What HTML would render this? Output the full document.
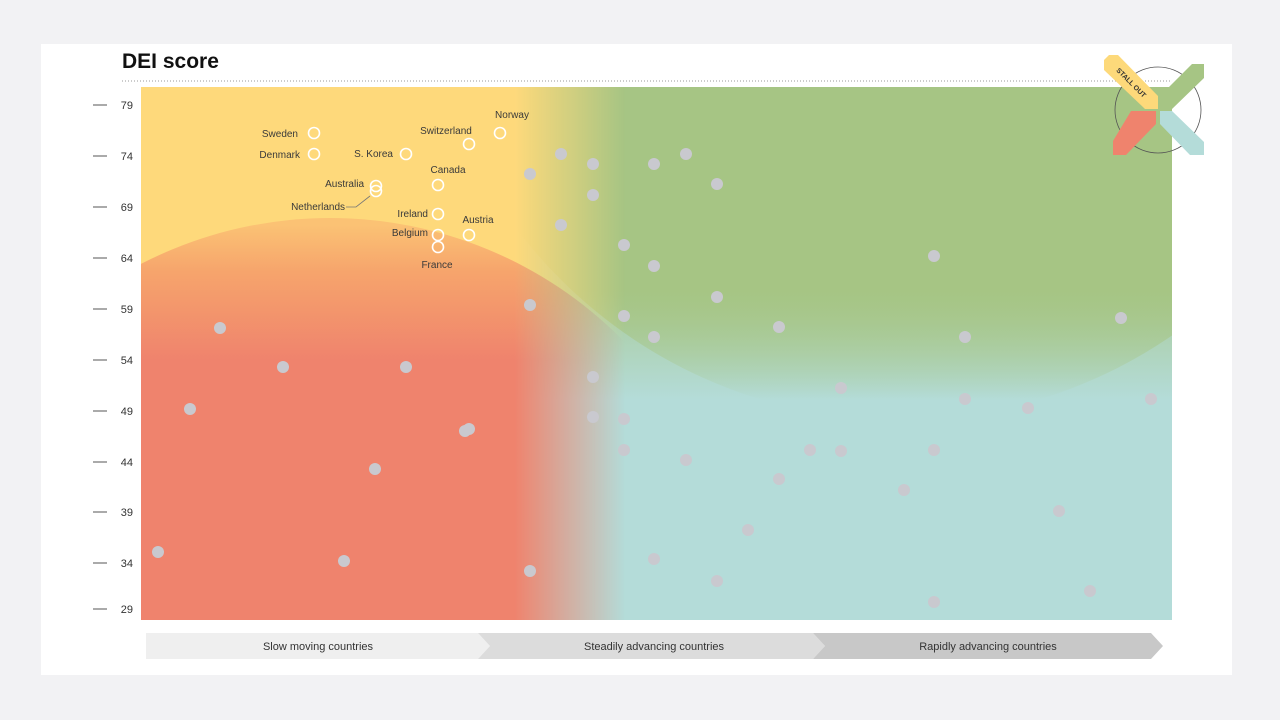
<!DOCTYPE html>
<html><head><meta charset="utf-8"><style>
html,body{margin:0;padding:0;background:#f2f2f4;overflow:hidden;width:1280px;height:720px;}
svg{display:block;font-family:"Liberation Sans",sans-serif;}
</style></head><body>
<svg width="1280" height="720" viewBox="0 0 1280 720" xmlns="http://www.w3.org/2000/svg">
<defs>
<clipPath id="plot"><rect x="141" y="87" width="1031" height="533"/></clipPath>
<linearGradient id="rightG" gradientUnits="userSpaceOnUse" x1="0" y1="290" x2="0" y2="400">
<stop offset="0" stop-color="#a6c584"/><stop offset="1" stop-color="#b4dcd9"/></linearGradient>
<linearGradient id="greenC" gradientUnits="userSpaceOnUse" x1="0" y1="290" x2="0" y2="400">
<stop offset="0" stop-color="#a6c584" stop-opacity="1"/><stop offset="1" stop-color="#a6c584" stop-opacity="0"/></linearGradient>
<linearGradient id="redG" gradientUnits="userSpaceOnUse" x1="0" y1="225" x2="0" y2="360">
<stop offset="0" stop-color="#fbc274"/><stop offset="0.35" stop-color="#f6a46c"/><stop offset="1" stop-color="#ef836d"/></linearGradient>
<linearGradient id="fadeH" gradientUnits="userSpaceOnUse" x1="515" y1="0" x2="625" y2="0">
<stop offset="0" stop-color="#fff"/><stop offset="1" stop-color="#000"/></linearGradient>
<mask id="leftMask"><rect x="0" y="0" width="1280" height="720" fill="url(#fadeH)"/></mask>
</defs>
<rect x="41" y="44" width="1191" height="631" fill="#fff"/>
<text x="122" y="68" font-size="21" font-weight="bold" fill="#111">DEI score</text>
<line x1="122" y1="81" x2="1172" y2="81" stroke="#999" stroke-width="1" stroke-dasharray="1,2"/>
<g clip-path="url(#plot)">
<rect x="141" y="87" width="1031" height="533" fill="#b4dcd9"/>
<rect x="141" y="87" width="1031" height="533" fill="url(#rightG)" opacity="0.75"/>
<circle cx="900" cy="-60" r="480" fill="url(#greenC)"/>
<g mask="url(#leftMask)">
<rect x="141" y="87" width="500" height="533" fill="#fed97b"/>
<circle cx="330" cy="630" r="412" fill="url(#redG)"/>
<rect x="141" y="600" width="500" height="30" fill="#ef836d"/>
</g>
</g>
<g font-size="11" fill="#333" text-anchor="end">
<g stroke="#555" stroke-width="1">
<line x1="93" y1="105" x2="107" y2="105"/><line x1="93" y1="156" x2="107" y2="156"/><line x1="93" y1="207" x2="107" y2="207"/><line x1="93" y1="258" x2="107" y2="258"/><line x1="93" y1="309" x2="107" y2="309"/><line x1="93" y1="360" x2="107" y2="360"/><line x1="93" y1="411" x2="107" y2="411"/><line x1="93" y1="462" x2="107" y2="462"/><line x1="93" y1="512" x2="107" y2="512"/><line x1="93" y1="563" x2="107" y2="563"/><line x1="93" y1="609" x2="107" y2="609"/>
</g>
<text x="133" y="109">79</text><text x="133" y="160">74</text><text x="133" y="211">69</text><text x="133" y="262">64</text><text x="133" y="313">59</text><text x="133" y="364">54</text><text x="133" y="415">49</text><text x="133" y="466">44</text><text x="133" y="516">39</text><text x="133" y="567">34</text><text x="133" y="613">29</text>
</g>
<g fill="#c9c9cf">
<circle cx="158" cy="552" r="6"/><circle cx="190" cy="409" r="6"/><circle cx="220" cy="328" r="6"/><circle cx="283" cy="367" r="6"/><circle cx="344" cy="561" r="6"/><circle cx="375" cy="469" r="6"/><circle cx="406" cy="367" r="6"/><circle cx="465" cy="431" r="6"/><circle cx="469" cy="429" r="6"/><circle cx="530" cy="174" r="6"/><circle cx="530" cy="305" r="6"/><circle cx="530" cy="571" r="6"/><circle cx="561" cy="154" r="6"/><circle cx="561" cy="225" r="6"/><circle cx="593" cy="164" r="6"/><circle cx="593" cy="195" r="6"/><circle cx="593" cy="377" r="6"/><circle cx="593" cy="417" r="6"/><circle cx="624" cy="245" r="6"/><circle cx="624" cy="316" r="6"/><circle cx="624" cy="419" r="6"/><circle cx="624" cy="450" r="6"/><circle cx="654" cy="164" r="6"/><circle cx="654" cy="266" r="6"/><circle cx="654" cy="337" r="6"/><circle cx="654" cy="559" r="6"/><circle cx="686" cy="154" r="6"/><circle cx="686" cy="460" r="6"/><circle cx="717" cy="184" r="6"/><circle cx="717" cy="297" r="6"/><circle cx="717" cy="581" r="6"/><circle cx="748" cy="530" r="6"/><circle cx="779" cy="327" r="6"/><circle cx="779" cy="479" r="6"/><circle cx="810" cy="450" r="6"/><circle cx="841" cy="388" r="6"/><circle cx="841" cy="451" r="6"/><circle cx="904" cy="490" r="6"/><circle cx="934" cy="256" r="6"/><circle cx="934" cy="450" r="6"/><circle cx="934" cy="602" r="6"/><circle cx="965" cy="337" r="6"/><circle cx="965" cy="399" r="6"/><circle cx="1028" cy="408" r="6"/><circle cx="1059" cy="511" r="6"/><circle cx="1090" cy="591" r="6"/><circle cx="1121" cy="318" r="6"/><circle cx="1151" cy="399" r="6"/>
</g>
<g fill="none" stroke="#fff" stroke-width="1.6">
<circle cx="314" cy="133" r="5.5"/><circle cx="314" cy="154" r="5.5"/><circle cx="406" cy="154" r="5.5"/><circle cx="469" cy="144" r="5.5"/><circle cx="500" cy="133" r="5.5"/><circle cx="438" cy="185" r="5.5"/><circle cx="376" cy="186" r="5.5"/><circle cx="376" cy="191" r="5.5"/><circle cx="438" cy="214" r="5.5"/><circle cx="438" cy="235" r="5.5"/><circle cx="438" cy="247" r="5.5"/><circle cx="469" cy="235" r="5.5"/>
</g>
<polyline points="346,207 356,207 370,196" fill="none" stroke="#777" stroke-width="0.8"/>
<g font-size="10" fill="#3a3a3a">
<text x="298" y="137" text-anchor="end">Sweden</text>
<text x="300" y="158" text-anchor="end">Denmark</text>
<text x="393" y="157" text-anchor="end">S. Korea</text>
<text x="446" y="134" text-anchor="middle">Switzerland</text>
<text x="512" y="118" text-anchor="middle">Norway</text>
<text x="448" y="173" text-anchor="middle">Canada</text>
<text x="364" y="187" text-anchor="end">Australia</text>
<text x="345" y="210" text-anchor="end">Netherlands</text>
<text x="428" y="217" text-anchor="end">Ireland</text>
<text x="428" y="236" text-anchor="end">Belgium</text>
<text x="478" y="223" text-anchor="middle">Austria</text>
<text x="437" y="268" text-anchor="middle">France</text>
</g>
<g font-size="11" fill="#333" text-anchor="middle">
<polygon points="146,633 478,633 490,646 478,659 146,659" fill="#efefef"/>
<polygon points="478,633 813,633 825,646 813,659 478,659 490,646" fill="#dcdcdc"/>
<polygon points="813,633 1151,633 1163,646 1151,659 813,659 825,646" fill="#c8c8c8"/>
<text x="318" y="650">Slow moving countries</text>
<text x="654" y="650">Steadily advancing countries</text>
<text x="988" y="650">Rapidly advancing countries</text>
</g>
<circle cx="1158" cy="110" r="43" fill="none" stroke="#555" stroke-width="0.8"/>
<polygon points="1104,60 1109,55 1118,55 1158,96 1158,109 1145,109 1104,70" fill="#fdd97a"/>
<polygon points="1160,96 1192,64 1204,64 1204,78 1172,109 1160,109" fill="#a6c584"/>
<polygon points="1131,111 1156,111 1156,124 1126,155 1113,155 1113,141" fill="#ef836d"/>
<polygon points="1160,111 1172,111 1204,142 1204,155 1190,155 1160,124" fill="#b4dcd9"/>
<text x="1131" y="85" font-size="7" font-weight="bold" fill="#333" text-anchor="middle" transform="rotate(45 1131 83)">STALL OUT</text>
</svg>
</body></html>
